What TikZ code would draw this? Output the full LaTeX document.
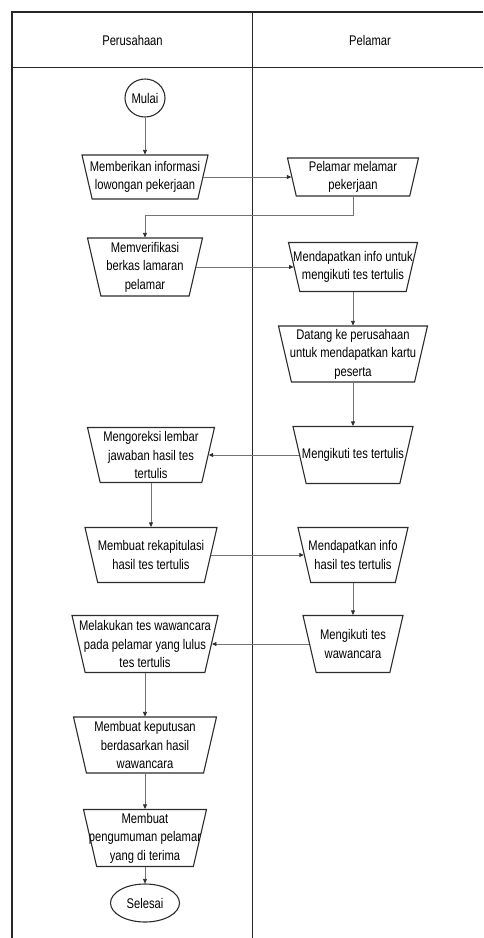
\documentclass[tikz,border=0pt]{standalone}
\usepackage{fontspec}
\setmainfont{Liberation Sans}[FakeStretch=0.8]
\usetikzlibrary{shapes.geometric, arrows.meta}
\definecolor{linec}{RGB}{115,115,115}
\definecolor{boxc}{RGB}{45,45,45}

\begin{document}
\begin{tikzpicture}[x=1pt, y=-1pt,
		every node/.style={font=\fontsize{14}{18.5}\selectfont},
		proc/.style 2 args={draw=boxc, line width=1.1pt, trapezium, shape border rotate=180, trapezium left angle=77, trapezium right angle=77, minimum size=0pt, inner xsep={(#1-0.4618*#2)/2}, inner ysep={#2/2}},
		term/.style={draw=boxc, line width=1.1pt, ellipse, inner sep=0pt},
		txt/.style={align=center, inner sep=0pt},
		flow/.style={draw=linec, line width=0.7pt, -{Triangle[length=4.5pt, width=4pt, color=boxc]}}]
		\useasboundingbox (0,0) rectangle (483,938);
		
		\draw[line width=1.3pt, black!85] (483,12) -- (12,12) -- (12,938);
		\draw[line width=1.3pt, black!85] (12,67.5) -- (483,67.5);
		\draw[line width=1.3pt, black!85] (252.5,12) -- (252.5,938);
		\node (h1) at (132.5,40) {Perusahaan};
		\node (h2) at (370,40) {Pelamar};
		
		\node[term, minimum width=40, minimum height=38] (start) at (145,98) {Mulai};
		\node[proc={126}{44}, label={[txt]center:{Memberikan informasi\\lowongan pekerjaan}}] (l1) at (145,177) {};
		\node[proc={131}{38}, label={[txt]center:{Pelamar melamar\\pekerjaan}}] (r1) at (353,177) {};
		\node[proc={115}{58}, label={[txt]center:{Memverifikasi\\berkas lamaran\\pelamar}}] (l2) at (145,267) {};
		\node[proc={129}{49}, label={[txt]center:{Mendapatkan info untuk\\mengikuti tes tertulis}}] (r2) at (353,267) {};
		\node[proc={149}{56}, label={[txt]center:{Datang ke perusahaan\\untuk mendapatkan kartu\\peserta}}] (r3) at (353,354) {};
		\node[proc={120}{57}, label={[txt]center:{Mengikuti tes tertulis}}] (r4) at (353,455) {};
		\node[proc={127}{55}, label={[txt]center:{Mengoreksi lembar\\jawaban hasil tes\\tertulis}}] (l3) at (151,455) {};
		\node[proc={132}{55}, label={[txt]center:{Membuat rekapitulasi\\hasil tes tertulis}}] (l4) at (151,555) {};
		\node[proc={110}{55}, label={[txt]center:{Mendapatkan info\\hasil tes tertulis}}] (r5) at (353,555) {};
		\node[proc={100}{57}, label={[txt]center:{Mengikuti tes\\wawancara}}] (r6) at (353,644) {};
		\node[proc={146}{57}, label={[txt]center:{Melakukan tes wawancara\\pada pelamar yang lulus\\tes tertulis}}] (l5) at (145,644) {};
		\node[proc={143}{56}, label={[txt]center:{Membuat keputusan\\berdasarkan hasil\\wawancara}}] (l6) at (145,745) {};
		\node[proc={123}{57}, label={[txt]center:{Membuat\\pengumuman pelamar\\yang di terima}}] (l7) at (145,838) {};
		\node[term, minimum width=69, minimum height=38] (stop) at (145,903) {Selesai};
		
		\draw[flow] (start) -- (l1);
		\draw[flow] (l1) -- (r1);
		\draw[flow] (r1.south) -- ++(0,19) -| (l2.north);
		\draw[flow] (l2) -- (r2);
		\draw[flow] (r2) -- (r3);
		\draw[flow] (r3) -- (r4);
		\draw[flow] (r4) -- (l3);
		\draw[flow] (l3) -- (l4);
		\draw[flow] (l4) -- (r5);
		\draw[flow] (r5) -- (r6);
		\draw[flow] (r6) -- (l5);
		\draw[flow] (l5) -- (l6);
		\draw[flow] (l6) -- (l7);
		\draw[flow] (l7) -- (stop);
		
		\end{tikzpicture}
\end{document}
